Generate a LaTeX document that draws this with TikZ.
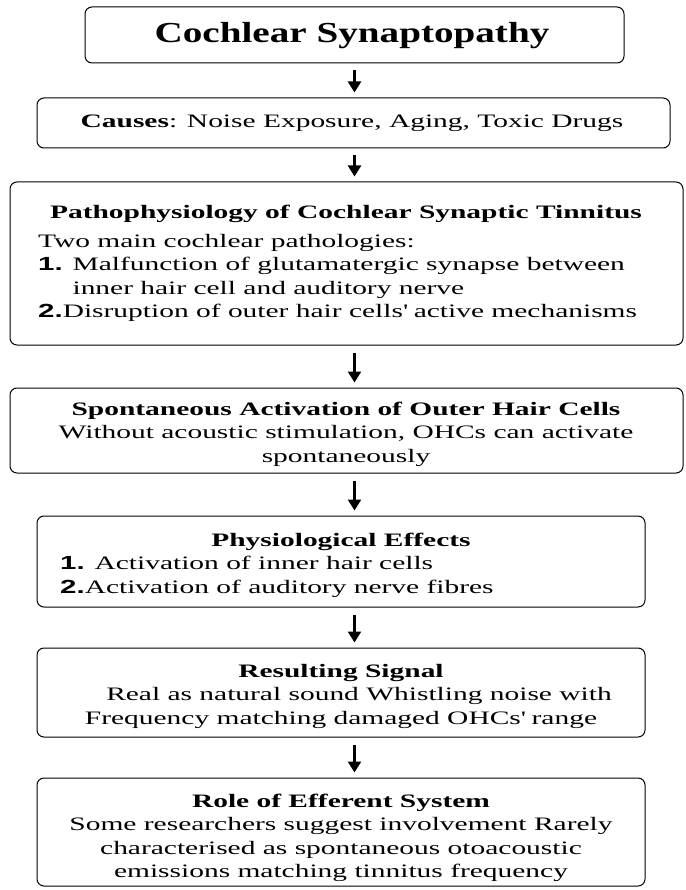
\documentclass[tikz,border=0pt]{standalone}
\usepackage{fontspec}
\setmainfont[FakeStretch=1.55]{Liberation Serif}
\newfontfamily\headfont[FakeStretch=1.35]{Liberation Serif}
\newfontfamily\numfont[FakeStretch=1.55]{Liberation Sans}
\usetikzlibrary{arrows.meta}
\newcommand{\itemno}[1]{{\numfont\bfseries #1}}

\begin{document}
\begin{tikzpicture}[x=1pt,y=-1pt,
  box/.style={draw,line width=1pt,rounded corners=7pt,inner sep=0pt},
  txt/.style={inner sep=0pt,align=center,font=\fontsize{19}{23.5}\selectfont},
  lst/.style={inner sep=0pt,align=left,anchor=west,font=\fontsize{19}{23.5}\selectfont},
  flow/.style={-{Triangle[length=11pt,width=13pt]},line width=2.4pt,shorten <=7pt,shorten >=5pt}]
\useasboundingbox (0,0) rectangle (685,890);
\node[box,minimum width=539pt,minimum height=56pt] (syn) at (354.5,35) {};
\node[box,minimum width=633pt,minimum height=50pt] (cause) at (353.5,123) {};
\node[box,minimum width=673pt,minimum height=163pt] (patho) at (346.5,263.5) {};
\node[box,minimum width=673pt,minimum height=85pt] (spont) at (346.5,430.5) {};
\node[box,minimum width=608pt,minimum height=91pt] (effect) at (341,561.5) {};
\node[box,minimum width=608pt,minimum height=89pt] (signal) at (341,692.5) {};
\node[box,minimum width=608pt,minimum height=108pt] (effer) at (341,832) {};
\node[inner sep=0pt,font=\headfont\bfseries\fontsize{29}{32}\selectfont] (synT) at (352,36) {Cochlear Synaptopathy};
\node[txt] (causeT) at (352,123) {\textbf{Causes}: Noise Exposure, Aging, Toxic Drugs};
\node[txt] (pathoT) at (346,214) {\textbf{Pathophysiology of Cochlear Synaptic Tinnitus}};
\node[lst] (pathoL) at (38,278) {Two main cochlear pathologies:\\
  \itemno{1.} Malfunction of glutamatergic synapse between\\
  \phantom{\itemno{1.} }inner hair cell and auditory nerve\\
  \itemno{2.}Disruption of outer hair cells\textquotesingle{} active mechanisms};
\node[txt] (spontT) at (346,434) {\textbf{Spontaneous Activation of Outer Hair Cells}\\
  Without acoustic stimulation, OHCs can activate\\ spontaneously};
\node[txt] (effectT) at (341,542) {\textbf{Physiological Effects}};
\node[lst] (effectL) at (60,577) {\itemno{1.} Activation of inner hair cells\\
  \itemno{2.}Activation of auditory nerve fibres};
\node[txt] (signalT) at (341,696) {\textbf{Resulting Signal}\\
  \hspace*{36pt}Real as natural sound Whistling noise with\\
  Frequency matching damaged OHCs\textquotesingle{} range};
\node[txt] (efferT) at (341,838) {\textbf{Role of Efferent System}\\
  Some researchers suggest involvement Rarely\\
  characterised as spontaneous otoacoustic\\
  emissions matching tinnitus frequency};
\draw[flow] (syn.south) -- (syn.south |- cause.north);
\draw[flow] (cause.south -| syn) -- (patho.north -| syn);
\draw[flow] (patho.south -| syn) -- (spont.north -| syn);
\draw[flow] (spont.south -| syn) -- (effect.north -| syn);
\draw[flow] (effect.south -| syn) -- (signal.north -| syn);
\draw[flow] (signal.south -| syn) -- (effer.north -| syn);
\end{tikzpicture}
\end{document}
